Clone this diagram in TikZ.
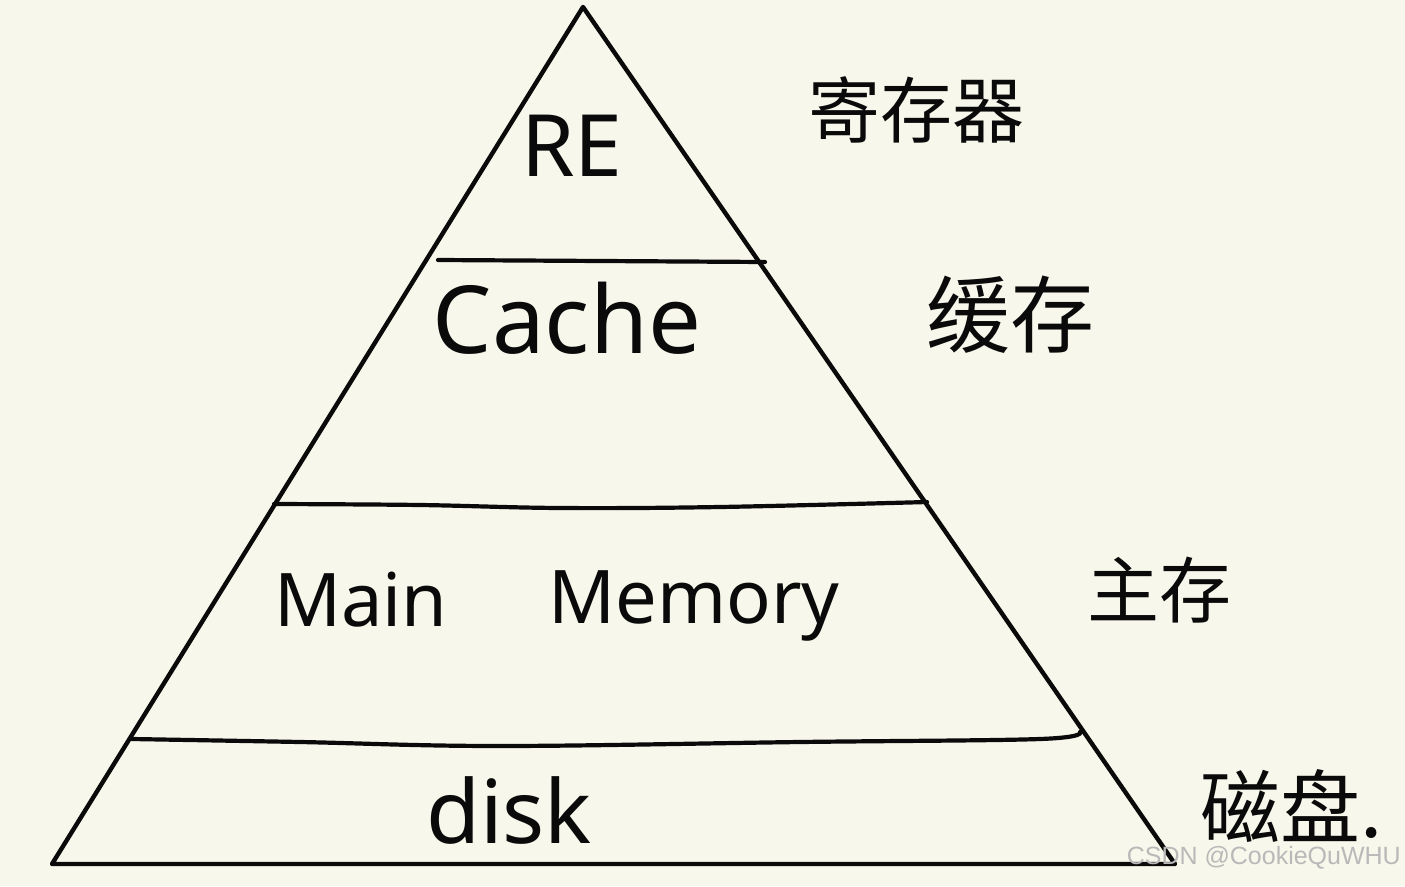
\documentclass[tikz,border=0pt]{standalone}
\usepackage{fontspec}
\setmainfont{Noto Sans}
\newfontfamily\cjk{Noto Sans CJK SC}
\newfontfamily\wmfont{Liberation Sans}
\definecolor{paper}{RGB}{248,247,235}
\definecolor{ink}{RGB}{10,10,10}
\begin{document}
\begin{tikzpicture}[x=1pt,y=-1pt,
  stroke/.style={draw=ink,line width=4.4pt,line cap=round,line join=round},
  layer/.style={draw=ink,line width=4.2pt,line cap=round},
  lbl/.style={text=ink,inner sep=0pt,anchor=center},
  cn/.style={text=ink,inner sep=0pt,anchor=center,font=\cjk\fontsize{#1}{#1}\selectfont},
  wmark/.style={text=gray!55,inner sep=0pt,font=\wmfont\fontsize{25}{25}\selectfont}]
\fill[paper] (0,0) rectangle (1405,886);
\useasboundingbox (0,0) rectangle (1405,886);
% pyramid
\coordinate (apex) at (583,7);
\coordinate (bl) at (52,864);
\coordinate (br) at (1175,864);
\draw[stroke] (apex) -- (bl) -- (br) -- cycle;
% layer lines
\coordinate (l1a) at (438,260);
\coordinate (l1b) at (765,262);
\draw[layer] (l1a) -- (l1b);
\coordinate (l2a) at (274,504);
\coordinate (l2b) at (927,502);
\draw[layer] plot[smooth,tension=0.6] coordinates {(274,504) (420,505) (560,508) (720,507) (927,502)};
\coordinate (l3a) at (132,739);
\coordinate (l3b) at (1080,732);
\draw[layer] plot[smooth,tension=0.6] coordinates {(132,739) (300,742) (500,746) (800,742) (1040,739) (1080,732)};
% labels in pyramid
\node[lbl,font=\fontsize{86}{86}\selectfont] (re) at (572,146) {RE};
\node[lbl,font=\fontsize{94}{94}\selectfont] (cache) at (567,318) {Cache};
\node[lbl,font=\fontsize{74}{74}\selectfont] (main) at (361,600) {Main};
\node[lbl,font=\fontsize{74}{74}\selectfont] (memory) at (694,606) {Memory};
\node[lbl,font=\fontsize{88}{88}\selectfont] (disk) at (509,810) {disk};
% chinese labels
\node[cn=72] (reg) at (916,110) {寄存器};
\node[cn=84] (cch) at (1010,315) {缓存};
\node[cn=72] (mm) at (1159,590) {主存};
\node[cn=80] (dsk) at (1292,806) {磁盘.};
% watermark
\node[wmark,anchor=east] (wm) at (1401,858) {CSDN @CookieQuWHU};
\end{tikzpicture}
\end{document}
